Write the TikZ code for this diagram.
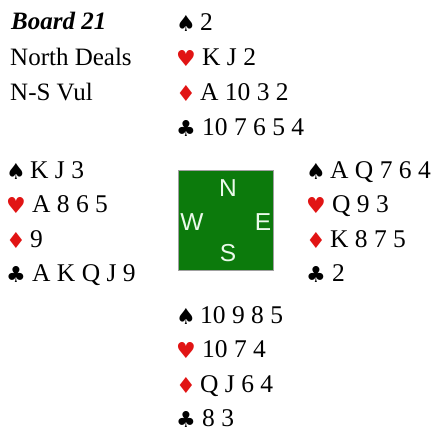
\documentclass[tikz,border=0pt]{standalone}
\usepackage{fontspec}
\setmainfont{Liberation Serif}
\newfontfamily\suitfont{DejaVu Sans}
\newfontfamily\compfont{Liberation Sans}
\definecolor{suitred}{RGB}{225,20,20}
\definecolor{feltgreen}{RGB}{12,122,12}
\definecolor{boxedge}{RGB}{160,160,160}
\definecolor{compwhite}{RGB}{235,250,235}
\tikzset{
  rank/.style={anchor=base west, inner sep=0pt, font=\fontsize{25.5}{30}\selectfont},
  info/.style={anchor=base west, inner sep=0pt, font=\fontsize{25}{30}\selectfont},
  suitblack/.style={anchor=base, inner sep=0pt, font=\suitfont\fontsize{22}{26}\selectfont},
  suitredst/.style={suitblack, text=suitred},
  compass/.style={anchor=center, inner sep=0pt, text=compwhite, font=\compfont\fontsize{24.5}{28}\selectfont},
  table/.style={draw=boxedge, line width=0.8pt, fill=feltgreen}
}
% \drawhand{name}{x centre of symbols}{baseline of first row}{step}{spades}{hearts}{diamonds}{clubs}
\newcommand{\drawhand}[8]{%
  \node[suitblack] (#1sS) at (#2,#3+1) {♠};
  \node[rank] (#1rS) at (#2+14,#3) {#5};
  \node[suitredst] (#1sH) at (#2,#3+#4+1) {♥};
  \node[rank] (#1rH) at (#2+16,#3+#4) {#6};
  \node[suitredst] (#1sD) at (#2,#3+2*#4+1) {♦};
  \node[rank] (#1rD) at (#2+14,#3+2*#4) {#7};
  \node[suitblack] (#1sC) at (#2,#3+3*#4+1) {♣};
  \node[rank] (#1rC) at (#2+16,#3+3*#4) {#8};
}
\begin{document}
\begin{tikzpicture}[x=1pt, y=-1pt]
\useasboundingbox (0,0) rectangle (435,434);
% info
\node[info, font=\bfseries\itshape\fontsize{25}{30}\selectfont] (board) at (11,29.5) {Board 21};
\node[info] (dealer) at (10,65) {North Deals};
\node[info] (vul) at (10,100) {N-S Vul};
% hands
\drawhand{north}{186}{30}{35}{2}{K J 2}{A 10 3 2}{10 7 6 5 4}
\drawhand{west}{16}{178}{34.5}{K J 3}{A 8 6 5}{9}{A K Q J 9}
\drawhand{east}{316}{178}{34.5}{A Q 7 6 4}{Q 9 3}{K 8 7 5}{2}
\drawhand{south}{186}{323}{34.5}{10 9 8 5}{10 7 4}{Q J 6 4}{8 3}
% table
\path[table] (178,170) rectangle (273,270);
\node[compass] (N) at (228,188) {N};
\node[compass] (W) at (192,222) {W};
\node[compass] (E) at (263,222) {E};
\node[compass] (S) at (228,253) {S};
\end{tikzpicture}
\end{document}
